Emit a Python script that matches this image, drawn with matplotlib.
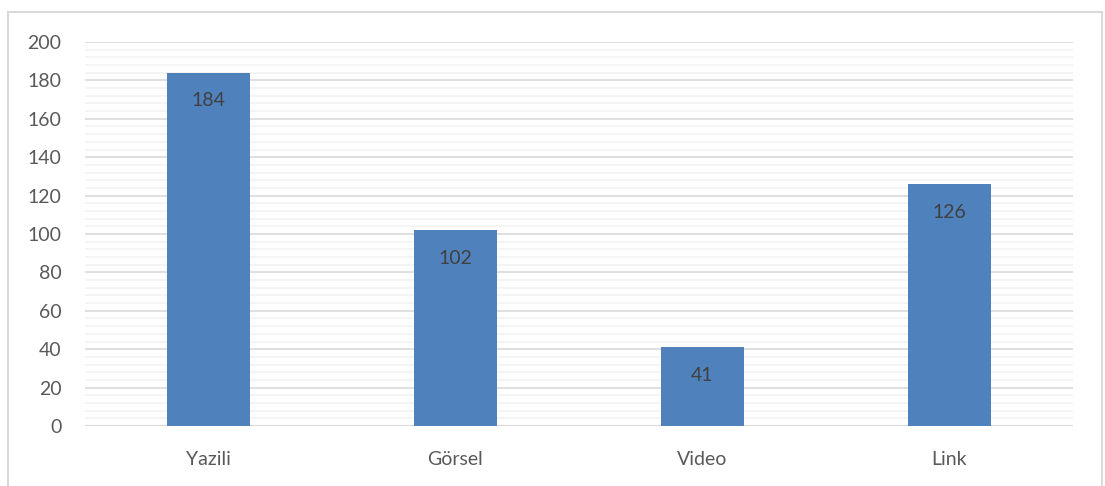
import matplotlib.pyplot as plt
from matplotlib.patches import Rectangle
import numpy as np

categories = ["Yazili", "Görsel", "Video", "Link"]
values = [184, 102, 41, 126]

plt.rcParams["font.family"] = ["Lato", "DejaVu Sans"]

fig = plt.figure(figsize=(11.05, 4.86), dpi=100)
ax = fig.add_axes([85 / 1105, 60 / 486, 988 / 1105, 384 / 486])

x = np.arange(len(categories))
bars = ax.bar(x, values, width=0.335, color="#4F81BD", zorder=3)

# value labels just inside the top of each bar
for rect, v in zip(bars, values):
    ax.annotate(str(v), (rect.get_x() + rect.get_width() / 2, v),
                xytext=(0, -28), textcoords="offset pixels",
                ha="center", va="center", fontsize=14, color="#404040", zorder=4)

ax.set_xlim(-0.5, len(categories) - 0.5)
ax.set_ylim(0, 200)
ax.set_yticks(np.arange(0, 201, 20))
ax.set_yticks(np.arange(0, 201, 4), minor=True)
ax.set_xticks(x)
ax.set_xticklabels(categories)

ax.grid(axis="y", which="major", color="#D9D9D9", linewidth=1.2, zorder=0)
ax.grid(axis="y", which="minor", color="#F2F2F2", linewidth=1.2, zorder=0)
ax.axhline(0, color="#D9D9D9", linewidth=1.5, zorder=2)

for s in ax.spines.values():
    s.set_visible(False)
ax.tick_params(axis="both", which="both", length=0, labelsize=14, colors="#595959")
ax.tick_params(axis="y", pad=17)
ax.tick_params(axis="x", pad=18)

# chart area border
fig.patches.append(Rectangle((8 / 1105, -0.1), 1094 / 1105, 1.1 - 12 / 486,
                             transform=fig.transFigure, fill=False,
                             edgecolor="#D9D9D9", linewidth=1.5))

fig.savefig("out.png", dpi=100)
